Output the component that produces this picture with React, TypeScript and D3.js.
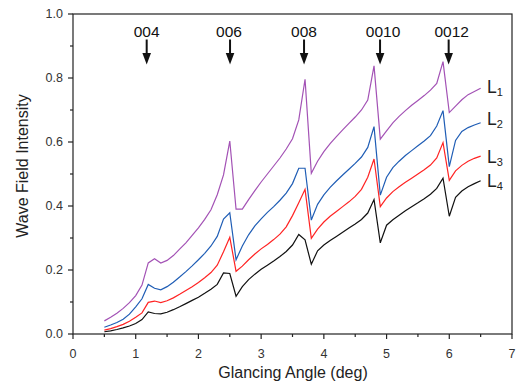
import React from "react";
import * as d3 from "d3";

const angles = [
  0.5, 0.6, 0.7, 0.8, 0.9, 1.0, 1.1, 1.2, 1.3, 1.4,
  1.5, 1.6, 1.7, 1.8, 1.9, 2.0, 2.1, 2.2, 2.3, 2.4,
  2.5, 2.6, 2.7, 2.8, 2.9, 3.0, 3.1, 3.2, 3.3, 3.4,
  3.5, 3.6, 3.7, 3.8, 3.9, 4.0, 4.1, 4.2, 4.3, 4.4,
  4.5, 4.6, 4.7, 4.8, 4.9, 5.0, 5.1, 5.2, 5.3, 5.4,
  5.5, 5.6, 5.7, 5.8, 5.9, 6.0, 6.1, 6.2, 6.3, 6.4, 6.5,
];

const L1 = [
  0.041, 0.052, 0.065, 0.080, 0.098, 0.120, 0.153, 0.222, 0.235, 0.222,
  0.230, 0.245, 0.265, 0.285, 0.308, 0.332, 0.358, 0.388, 0.435, 0.497,
  0.603, 0.390, 0.390, 0.420, 0.448, 0.475, 0.500, 0.525, 0.550, 0.578,
  0.610, 0.669, 0.796, 0.502, 0.540, 0.570, 0.595, 0.617, 0.638, 0.658,
  0.678, 0.700, 0.731, 0.838, 0.609, 0.635, 0.660, 0.680, 0.698, 0.715,
  0.730, 0.745, 0.762, 0.783, 0.851, 0.692, 0.712, 0.732, 0.748, 0.758, 0.768,
];

const L2 = [
  0.021, 0.028, 0.036, 0.046, 0.062, 0.085, 0.110, 0.155, 0.143, 0.138,
  0.148, 0.162, 0.178, 0.195, 0.213, 0.232, 0.252, 0.275, 0.305, 0.359,
  0.379, 0.232, 0.275, 0.310, 0.338, 0.360, 0.380, 0.398, 0.418, 0.440,
  0.470, 0.518, 0.518, 0.356, 0.405, 0.435, 0.458, 0.478, 0.497, 0.515,
  0.533, 0.553, 0.583, 0.648, 0.434, 0.490, 0.520, 0.540, 0.558, 0.573,
  0.588, 0.603, 0.620, 0.650, 0.698, 0.523, 0.605, 0.633, 0.645, 0.653, 0.660,
];

const L3 = [
  0.012, 0.017, 0.023, 0.030, 0.040, 0.052, 0.066, 0.099, 0.103, 0.098,
  0.104, 0.113, 0.124, 0.136, 0.148, 0.161, 0.176, 0.192, 0.215, 0.257,
  0.302, 0.196, 0.212, 0.232, 0.250, 0.266, 0.280, 0.295, 0.312, 0.335,
  0.370, 0.410, 0.452, 0.299, 0.328, 0.350, 0.368, 0.383, 0.398, 0.413,
  0.430, 0.452, 0.490, 0.547, 0.398, 0.425, 0.445, 0.460, 0.474, 0.487,
  0.500, 0.513, 0.528, 0.550, 0.598, 0.480, 0.510, 0.527, 0.540, 0.549, 0.556,
];

const L4 = [
  0.007, 0.010, 0.014, 0.019, 0.025, 0.033, 0.045, 0.069, 0.064, 0.063,
  0.068, 0.076, 0.085, 0.095, 0.105, 0.115, 0.127, 0.140, 0.155, 0.191,
  0.189, 0.118, 0.148, 0.170, 0.187, 0.202, 0.215, 0.228, 0.242, 0.258,
  0.278, 0.311, 0.294, 0.218, 0.260, 0.278, 0.292, 0.305, 0.318, 0.331,
  0.344, 0.358, 0.378, 0.420, 0.285, 0.340, 0.357, 0.371, 0.385, 0.398,
  0.410, 0.423, 0.437, 0.455, 0.487, 0.368, 0.427, 0.447, 0.460, 0.470, 0.479,
];

const seriesNames = ["1", "2", "3", "4"];
const seriesValues = [L1, L2, L3, L4];
const seriesColors = ["#a352b5", "#1f5db5", "#ff2323", "#111111"];
const seriesLabelY = [0.753, 0.653, 0.534, 0.459];
const seriesLabelX = 6.6;

const peakLabels = ["004", "006", "008", "0010", "0012"];
const peakAngles = [1.175, 2.504, 3.684, 4.896, 5.99];
const peakTextDx = [0, -1, 0, 3, 3];

const xMajorTicks = [0, 1, 2, 3, 4, 5, 6, 7];
const xMinorTicks = [0.5, 1.5, 2.5, 3.5, 4.5, 5.5, 6.5];
const yMajorTicks = [0, 0.2, 0.4, 0.6, 0.8, 1.0];
const yMinorTicks = [0.1, 0.3, 0.5, 0.7, 0.9];

const W = 518;
const H = 385;
const left = 73;
const right = 512;
const top = 14;
const bottom = 334;
const FONT = "'Liberation Sans', Arial, sans-serif";

export default function App() {
  const x = d3.scaleLinear().domain([0, 7]).range([left, right]);
  const y = d3.scaleLinear().domain([0, 1]).range([bottom, top]);
  const line = d3
    .line<number>()
    .x((_, i) => x(angles[i]))
    .y((d) => y(d));

  return (
    <svg
      width={W}
      height={H}
      style={{ position: "absolute", left: 0, top: 0, display: "block", background: "#fff" }}
      fontFamily={FONT}
    >
      <rect x={0} y={0} width={W} height={H} fill="#fff" />
      {seriesValues.map((vals, k) => (
        <path
          key={k}
          d={line(vals) || ""}
          fill="none"
          stroke={seriesColors[k]}
          strokeWidth={1.2}
          strokeLinejoin="miter"
        />
      ))}
      <rect
        x={left}
        y={top}
        width={right - left}
        height={bottom - top}
        fill="none"
        stroke="#222"
        strokeWidth={1.2}
      />
      {yMajorTicks.map((t) => (
        <g key={"ym" + t}>
          <line x1={left - 5} x2={left} y1={y(t)} y2={y(t)} stroke="#222" strokeWidth={1.2} />
          <text x={left - 10} y={y(t)} dy="0.35em" textAnchor="end" fontSize={12.5} fill="#333">
            {t.toFixed(1)}
          </text>
        </g>
      ))}
      {yMinorTicks.map((t) => (
        <line key={"yn" + t} x1={left - 3} x2={left} y1={y(t)} y2={y(t)} stroke="#222" strokeWidth={1.2} />
      ))}
      {xMajorTicks.map((t) => (
        <g key={"xm" + t}>
          <line x1={x(t)} x2={x(t)} y1={bottom} y2={bottom + 5} stroke="#222" strokeWidth={1.2} />
          <text x={x(t)} y={bottom + 24} textAnchor="middle" fontSize={12.5} fill="#333">
            {t}
          </text>
        </g>
      ))}
      {xMinorTicks.map((t) => (
        <line key={"xn" + t} x1={x(t)} x2={x(t)} y1={bottom} y2={bottom + 3} stroke="#222" strokeWidth={1.2} />
      ))}
      <text
        transform={`translate(22.5,166) rotate(-90)`}
        textAnchor="middle"
        dy="0.35em"
        fontSize={16}
        fill="#222"
      >
        Wave Field Intensity
      </text>
      <text x={293} y={378} textAnchor="middle" fontSize={16} fill="#222">
        Glancing Angle (deg)
      </text>
      {peakLabels.map((lab, i) => {
        const px = x(peakAngles[i]);
        return (
          <g key={lab}>
            <text x={px + peakTextDx[i]} y={36.5} textAnchor="middle" fontSize={15.5} fill="#111">
              {lab}
            </text>
            <line x1={px} x2={px} y1={39.5} y2={54} stroke="#111" strokeWidth={2} />
            <path d={`M${px - 4.3},53 L${px + 4.3},53 L${px},64.5 Z`} fill="#111" />
          </g>
        );
      })}
      {seriesNames.map((n, k) => (
        <text key={n} x={x(seriesLabelX)} y={y(seriesLabelY[k])} fontSize={17.5} fill="#222">
          L
          <tspan fontSize={11} dy={3}>
            {n}
          </tspan>
        </text>
      ))}
    </svg>
  );
}
